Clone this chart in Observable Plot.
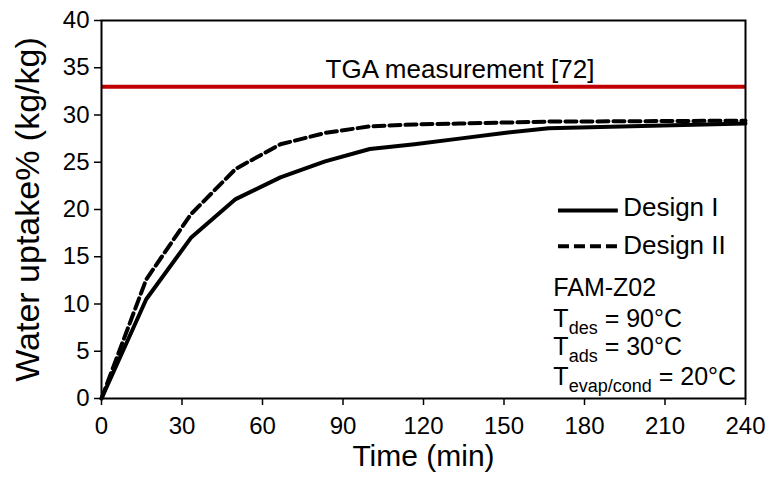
<!DOCTYPE html>
<html><head><meta charset="utf-8">
<script src="https://cdn.jsdelivr.net/npm/d3@7"></script>
<script src="https://cdn.jsdelivr.net/npm/@observablehq/plot@0.6"></script>
<style>
body{margin:0;background:#fff;}
svg{font-family:"Liberation Sans",Arial,sans-serif;}
</style>
</head><body><div id="chart"></div>
<script>
// Data
const timeMin = [0, 16.67, 33.33, 50, 66.67, 83.33, 100, 116.67, 133.33, 150, 166.67, 240];
const uptakeDesignI = [0, 10.5, 17.0, 21.1, 23.4, 25.1, 26.4, 26.9, 27.5, 28.1, 28.6, 29.1];
const uptakeDesignII = [0, 12.6, 19.5, 24.3, 26.9, 28.1, 28.8, 29.0, 29.1, 29.2, 29.3, 29.4];
const tgaValue = 33;
const tgaLabel = "TGA measurement [72]";
const xTicks = [0, 30, 60, 90, 120, 150, 180, 210, 240];
const yTicks = [0, 5, 10, 15, 20, 25, 30, 35, 40];
const seriesNames = ["Design I", "Design II"];
const infoLines = ["FAM-Z02", "T_{des} = 90°C", "T_{ads} = 30°C", "T_{evap/cond} = 20°C"];

const dataI = timeMin.map((t, i) => ({t, v: uptakeDesignI[i]}));
const dataII = timeMin.map((t, i) => ({t, v: uptakeDesignII[i]}));

// legend / annotation placement (data units)
const legendLineY = [19.9, 16.1];
const legendTextY = [20.2, 16.2];
const infoY = [11.67, 8.42, 5.43, 2.25];
const dash = "11,5";

const chart = Plot.plot({
  width: 767,
  height: 480,
  marginLeft: 101,
  marginRight: 22,
  marginTop: 20,
  marginBottom: 82,
  x: {domain: [0, 240]},
  y: {domain: [0, 40]},
  marks: [
    Plot.ruleY([tgaValue], {stroke: "#C00000", strokeWidth: 4}),
    Plot.text([tgaLabel], {x: 133.6, y: 34.8, fontSize: 26, fill: "black"}),
    Plot.line(dataI, {x: "t", y: "v", stroke: "black", strokeWidth: 4}),
    Plot.line(dataII, {x: "t", y: "v", stroke: "black", strokeWidth: 4, strokeDasharray: dash}),
    // legend
    Plot.ruleY([legendLineY[0]], {x1: 170.3, x2: 192.6, stroke: "black", strokeWidth: 4}),
    Plot.ruleY([legendLineY[1]], {x1: 170.3, x2: 192.6, stroke: "black", strokeWidth: 4, strokeDasharray: dash}),
    Plot.text(seriesNames, {x: 194.4, y: (d, i) => legendTextY[i], textAnchor: "start", fontSize: 26}),
    Plot.text(infoLines, {x: 168.4, y: (d, i) => infoY[i], textAnchor: "start", fontSize: 25}),
    Plot.frame({stroke: "black", strokeWidth: 2}),
    Plot.axisX({ticks: xTicks, tickSize: 7, tickPadding: 11, fontSize: 24, label: null, tickFormat: d => d}),
    Plot.axisY({ticks: yTicks, tickSize: 7, tickPadding: 5, fontSize: 24, label: null, tickFormat: d => d}),
    Plot.text(["Time (min)"], {frameAnchor: "bottom", dy: 67, fontSize: 30}),
    Plot.text(["Water uptake% (kg/kg)"], {frameAnchor: "left", textAnchor: "middle", rotate: -90, dx: -73, fontSize: 34})
  ]
});

// subscripts
d3.select(chart).selectAll("text").each(function() {
  const el = this;
  const s = el.textContent;
  if (!s.includes("_{")) return;
  const m = s.match(/^(.*?)_\{(.*?)\}(.*)$/);
  el.textContent = "";
  const ns = "http://www.w3.org/2000/svg";
  const a = document.createElementNS(ns, "tspan"); a.textContent = m[1]; el.appendChild(a);
  const b = document.createElementNS(ns, "tspan"); b.textContent = m[2];
  b.setAttribute("font-size", "18"); b.setAttribute("dy", "7"); el.appendChild(b);
  const c = document.createElementNS(ns, "tspan"); c.textContent = m[3];
  c.setAttribute("dy", "-7"); el.appendChild(c);
});

d3.select(chart).selectAll("g[aria-label='x-axis tick'], g[aria-label='y-axis tick']").attr("stroke-width", 1.5);
document.getElementById("chart").appendChild(chart);
</script>
</body></html>
